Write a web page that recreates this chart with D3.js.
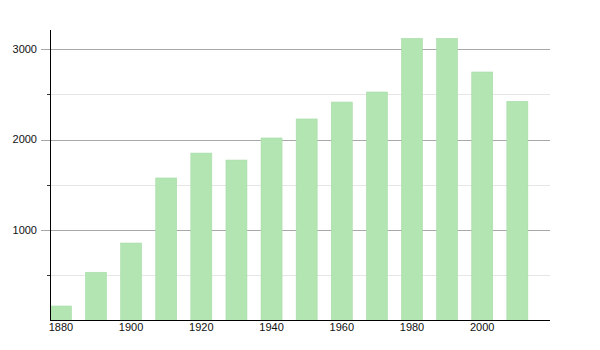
<!DOCTYPE html>
<html>
<head>
<meta charset="utf-8">
<script src="https://cdn.jsdelivr.net/npm/d3@7"></script>
<style>
  body { margin: 0; background: #fff; }
  svg text { font-family: "Liberation Sans", Arial, sans-serif; font-size: 11px; fill: #111; }
</style>
</head>
<body>
<div class="chart"></div>
<script>
var years = [1880, 1890, 1900, 1910, 1920, 1930, 1940, 1950, 1960, 1970, 1980, 1990, 2000, 2010];
var population = [160, 533, 856, 1575, 1850, 1773, 2017, 2227, 2414, 2525, 3118, 3118, 2746, 2422];
var xTicks = [1880, 1900, 1920, 1940, 1960, 1980, 2000];
var yMajor = [1000, 2000, 3000];
var yMinor = [500, 1500, 2500];

var width = 600, height = 350;
var svg = d3.select(".chart").append("svg")
    .attr("width", width)
    .attr("height", height);

var x = d3.scaleLinear().domain([1876.9, 2019.3]).range([50, 550]);
var y = d3.scaleLinear().domain([0, 3210]).range([320.5, 30]);
var barW = 21;

// minor gridlines
svg.selectAll(".minor").data(yMinor).enter().append("line")
    .attr("x1", 50).attr("x2", 550)
    .attr("y1", d => Math.round(y(d)) + 0.5).attr("y2", d => Math.round(y(d)) + 0.5)
    .attr("stroke", "#e6e6e6");
svg.selectAll(".minortick").data(yMinor).enter().append("line")
    .attr("x1", 47).attr("x2", 50)
    .attr("y1", d => Math.round(y(d)) + 0.5).attr("y2", d => Math.round(y(d)) + 0.5)
    .attr("stroke", "#333");

// major gridlines
svg.selectAll(".major").data(yMajor).enter().append("line")
    .attr("x1", 41).attr("x2", 550)
    .attr("y1", d => Math.round(y(d)) + 0.5).attr("y2", d => Math.round(y(d)) + 0.5)
    .attr("stroke", "#a8a8a8");

// bars
svg.selectAll(".bar").data(years).enter().append("rect")
    .attr("x", d => x(d) - barW / 2)
    .attr("width", barW)
    .attr("y", (d, i) => y(population[i]))
    .attr("height", (d, i) => y(0) - y(population[i]))
    .attr("fill", "#b3e5b3")
    .attr("stroke", "#a8dca8")
    .attr("stroke-width", 0.6);

// axes lines
svg.append("line").attr("x1", 50.5).attr("x2", 50.5).attr("y1", 30).attr("y2", 321)
    .attr("stroke", "#000");
svg.append("line").attr("x1", 50).attr("x2", 550).attr("y1", 320.5).attr("y2", 320.5)
    .attr("stroke", "#000");

// y labels
svg.selectAll(".ylab").data(yMajor).enter().append("text")
    .attr("x", 37).attr("y", d => y(d))
    .attr("dy", "0.35em")
    .attr("text-anchor", "end")
    .text(d => d);

// x labels
svg.selectAll(".xlab").data(xTicks).enter().append("text")
    .attr("x", d => x(d)).attr("y", 331)
    .attr("text-anchor", "middle")
    .text(d => d);
</script>
</body>
</html>
